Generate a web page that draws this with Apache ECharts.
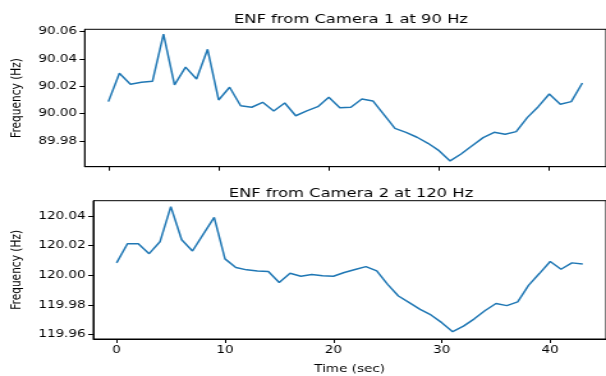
<!DOCTYPE html>
<html>
<head>
<meta charset="utf-8">
<script src="https://cdn.jsdelivr.net/npm/echarts@6/dist/echarts.min.js"></script>
<style>
html,body{margin:0;padding:0;background:#fff;overflow:hidden;width:606px;height:376px;}
#wrap{width:474px;height:376px;transform:scaleX(1.2785);transform-origin:0 0;}
</style>
</head>
<body>
<div id="wrap"></div>
<script>
const timeSec = [0,1,2,3,4,5,6,7,8,9,10,11,12,13,14,15,16,17,18,19,20,21,22,23,24,25,26,27,28,29,30,31,32,33,34,35,36,37,38,39,40,41,42,43];
const camera1 = [90.0088,90.0295,90.0215,90.0229,90.0236,90.0580,90.0210,90.0340,90.0253,90.0470,
  90.0100,90.0193,90.0058,90.0047,90.0083,90.0020,90.0078,89.9985,90.0020,90.0051,
  90.0120,90.0044,90.0047,90.0107,90.0093,89.9993,89.9893,89.9864,89.9828,89.9784,
  89.9730,89.9655,89.9706,89.9766,89.9825,89.9864,89.9850,89.9869,89.9971,90.0051,
  90.0144,90.0069,90.0088,90.0224];
const camera2 = [120.0083,120.0212,120.0212,120.0145,120.0225,120.0462,120.0239,120.0163,120.0277,120.0390,
  120.0110,120.0052,120.0036,120.0029,120.0025,119.9951,120.0013,119.9993,120.0005,119.9996,
  119.9993,120.0018,120.0038,120.0058,120.0029,119.9938,119.9860,119.9815,119.9770,119.9732,
  119.9680,119.9619,119.9657,119.9706,119.9762,119.9809,119.9795,119.9820,119.9931,120.0011,
  120.0092,120.0040,120.0083,120.0076];
const xTicks = [0,10,20,30,40];
const yTicks1 = [89.98,90.00,90.02,90.04,90.06];
const yTicks2 = [119.96,119.98,120.00,120.02,120.04];
const titles = ['ENF from Camera 1 at 90 Hz','ENF from Camera 2 at 120 Hz'];
const yName = 'Frequency (Hz)';
const xName = 'Time (sec)';

const FONT = 'DejaVu Sans';
const chart = echarts.init(document.getElementById('wrap'));
const pair = (vals) => timeSec.map((t, i) => [t, vals[i]]);
const axisCommon = {
  axisLine: {show: true, onZero: false, lineStyle: {color: '#000', width: 1}},
  splitLine: {show: false},
};
chart.setOption({
  animation: false,
  title: [
    {text: titles[0], left: 269.5, top: 8, textAlign: 'center',
     textStyle: {fontFamily: FONT, fontSize: 12.8, fontWeight: 'normal', color: '#000'}},
    {text: titles[1], left: 269.5, top: 182, textAlign: 'center',
     textStyle: {fontFamily: FONT, fontSize: 12.8, fontWeight: 'normal', color: '#000'}}
  ],
  grid: [
    {left: 65, top: 29.3, width: 411, height: 137.4, show: true, borderColor: '#000', borderWidth: 1, containLabel: false},
    {left: 65, top: 200.7, width: 411, height: 139.3, show: true, borderColor: '#000', borderWidth: 1, containLabel: false}
  ],
  xAxis: [
    Object.assign({type: 'value', gridIndex: 0, min: -2.15, max: 45.15,
      axisTick: {show: true, length: 4, customValues: xTicks, lineStyle: {color: '#000'}},
      axisLabel: {show: false}}, axisCommon),
    Object.assign({type: 'value', gridIndex: 1, min: -2.15, max: 45.15,
      name: xName, nameLocation: 'middle', nameGap: 25,
      nameTextStyle: {fontFamily: FONT, fontSize: 10.6, color: '#000'},
      axisTick: {show: true, length: 4, customValues: xTicks, lineStyle: {color: '#000'}},
      axisLabel: {show: true, customValues: xTicks, margin: 6, fontFamily: FONT, fontSize: 10.6, color: '#000'}}, axisCommon)
  ],
  yAxis: [
    Object.assign({type: 'value', gridIndex: 0, min: 89.9613, max: 90.0616,
      name: yName, nameLocation: 'middle', nameGap: 43, nameRotate: 90,
      nameTextStyle: {fontFamily: FONT, fontSize: 10.6, color: '#000'},
      axisTick: {show: true, length: 4, customValues: yTicks1, lineStyle: {color: '#000'}},
      axisLabel: {show: true, customValues: yTicks1, margin: 6, fontFamily: FONT, fontSize: 10.6, color: '#000',
        formatter: v => Number(v).toFixed(2)}}, axisCommon),
    Object.assign({type: 'value', gridIndex: 1, min: 119.957, max: 120.0502,
      name: yName, nameLocation: 'middle', nameGap: 43, nameRotate: 90,
      nameTextStyle: {fontFamily: FONT, fontSize: 10.6, color: '#000'},
      axisTick: {show: true, length: 4, customValues: yTicks2, lineStyle: {color: '#000'}},
      axisLabel: {show: true, customValues: yTicks2, margin: 6, fontFamily: FONT, fontSize: 10.6, color: '#000',
        formatter: v => Number(v).toFixed(2)}}, axisCommon)
  ],
  series: [
    {type: 'line', xAxisIndex: 0, yAxisIndex: 0, data: pair(camera1), showSymbol: false,
     lineStyle: {color: '#1f77b4', width: 1.5}, itemStyle: {color: '#1f77b4'}},
    {type: 'line', xAxisIndex: 1, yAxisIndex: 1, data: pair(camera2), showSymbol: false,
     lineStyle: {color: '#1f77b4', width: 1.5}, itemStyle: {color: '#1f77b4'}}
  ]
});
</script>
</body>
</html>
